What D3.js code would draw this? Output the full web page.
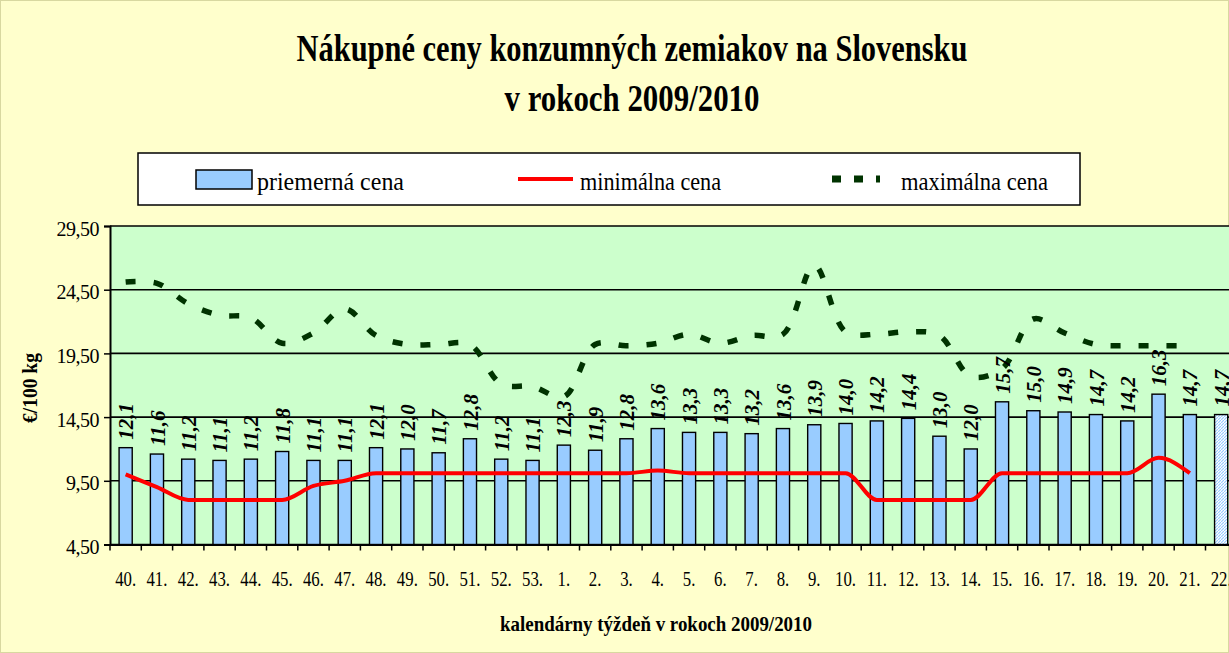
<!DOCTYPE html>
<html>
<head>
<meta charset="utf-8">
<script src="https://cdn.jsdelivr.net/npm/d3@7"></script>
<style>
  body { margin: 0; background: #FFFFCC; }
  svg { display: block; }
  text { font-family: "Liberation Serif", "Times New Roman", serif; }
</style>
</head>
<body>
<div id="chart"></div>
<script>
// week labels (2009/2010)
var weeks = ["40.","41.","42.","43.","44.","45.","46.","47.","48.","49.","50.","51.","52.","53.",
             "1.","2.","3.","4.","5.","6.","7.","8.","9.","10.","11.","12.","13.","14.","15.",
             "16.","17.","18.","19.","20.","21.","22."];

// priemerna cena (bars)
var avgPrice = [12.1,11.6,11.2,11.1,11.2,11.8,11.1,11.1,12.1,12.0,11.7,12.8,11.2,11.1,
                12.3,11.9,12.8,13.6,13.3,13.3,13.2,13.6,13.9,14.0,14.2,14.4,13.0,12.0,15.7,
                15.0,14.9,14.7,14.2,16.3,14.7,14.7];

// minimalna cena (red line)
var minPrice = [10.0,9.0,8.0,8.0,8.0,8.0,9.1,9.5,10.1,10.1,10.1,10.1,10.1,10.1,
                10.1,10.1,10.1,10.3,10.1,10.1,10.1,10.1,10.1,10.1,8.0,8.0,8.0,8.0,10.1,
                10.1,10.1,10.1,10.1,11.3,10.1,null];

// maximalna cena (dashed line)
var maxPrice = [25.1,25.0,23.4,22.5,22.3,20.3,21.1,23.0,20.9,20.2,20.2,20.2,17.1,16.9,
                16.1,20.2,20.1,20.3,21.0,20.3,20.9,21.0,26.4,21.2,21.0,21.2,20.9,17.7,18.3,
                22.2,21.1,20.2,20.1,20.1,20.1,null];

var yTicks = [4.5, 9.5, 14.5, 19.5, 24.5, 29.5];
var hatchedWeeks = ["22."];

var width = 1229, height = 653;
var plot = {left: 110, top: 226, bottom: 544.5, band: 31.3};

var skFormat = d3.formatLocale({decimal: ",", thousands: " ", grouping: [3], currency: ["", " €"]});
var tickFmt = skFormat.format(".2f");
var valFmt = skFormat.format(".1f");

var svg = d3.select("#chart").append("svg")
      .attr("width", width)
      .attr("height", height);

// hatch pattern for the last (partial) week
var defs = svg.append("defs");
var pat = defs.append("pattern")
      .attr("id", "hatch")
      .attr("patternUnits", "userSpaceOnUse")
      .attr("width", 3).attr("height", 3);
pat.append("rect").attr("width", 3).attr("height", 3).attr("fill", "#ffffff");
pat.append("path").attr("d", "M0,3 L3,0").attr("stroke", "#99CCFF").attr("stroke-width", 1.2);

svg.append("rect")
      .attr("x", 0.5).attr("y", 0.5)
      .attr("width", width - 1).attr("height", height - 1)
      .attr("fill", "#FFFFCC")
      .attr("stroke", "#d8d8a0");

// scales
var x = d3.scaleBand()
      .domain(weeks)
      .range([plot.left, plot.left + weeks.length * plot.band]);

var y = d3.scaleLinear()
      .domain([yTicks[0], yTicks[yTicks.length - 1]])
      .range([plot.bottom, plot.top]);

// title
var title = svg.append("g")
      .attr("font-weight", "bold")
      .attr("font-size", 37)
      .attr("text-anchor", "middle")
      .attr("fill", "#000");
title.append("text").attr("x", 632).attr("y", 61)
      .attr("textLength", 671).attr("lengthAdjust", "spacingAndGlyphs")
      .text("Nákupné ceny konzumných zemiakov na Slovensku");
title.append("text").attr("x", 632).attr("y", 111)
      .attr("textLength", 255).attr("lengthAdjust", "spacingAndGlyphs")
      .text("v rokoch 2009/2010");

// legend
var legend = svg.append("g");
legend.append("rect")
      .attr("x", 138).attr("y", 153)
      .attr("width", 942).attr("height", 52)
      .attr("fill", "#ffffff")
      .attr("stroke", "#000").attr("stroke-width", 1.5);
legend.append("rect")
      .attr("x", 196).attr("y", 170)
      .attr("width", 56).attr("height", 19)
      .attr("fill", "#99CCFF")
      .attr("stroke", "#000").attr("stroke-width", 1.5);
legend.append("line")
      .attr("x1", 518).attr("x2", 573).attr("y1", 179).attr("y2", 179)
      .attr("stroke", "#FF0000").attr("stroke-width", 4);
legend.append("line")
      .attr("x1", 832).attr("x2", 880).attr("y1", 179).attr("y2", 179)
      .attr("stroke", "#003300").attr("stroke-width", 7)
      .attr("stroke-dasharray", "9,13");
var legTexts = [["priemerná cena", 257, 147], ["minimálna cena", 580, 141], ["maximálna cena", 901, 147]];
legend.selectAll("text.leg")
      .data(legTexts)
      .enter()
      .append("text")
      .attr("class", "leg")
      .attr("x", d => d[1])
      .attr("y", 190)
      .attr("font-size", 25)
      .attr("textLength", d => d[2])
      .attr("lengthAdjust", "spacingAndGlyphs")
      .text(d => d[0]);

// plot area background
svg.append("rect")
      .attr("x", plot.left).attr("y", plot.top)
      .attr("width", width - plot.left)
      .attr("height", plot.bottom - plot.top)
      .attr("fill", "#CCFFCC");

// gridlines
svg.append("g")
      .selectAll("line")
      .data(yTicks)
      .enter()
      .append("line")
      .attr("x1", plot.left).attr("x2", width)
      .attr("y1", d => y(d)).attr("y2", d => y(d))
      .attr("stroke", "#000")
      .attr("stroke-width", 1.6);

// bars
var barW = x.bandwidth() * 0.42;
svg.append("g")
      .selectAll("rect")
      .data(weeks)
      .enter()
      .append("rect")
      .attr("x", d => x(d) + (x.bandwidth() - barW) / 2)
      .attr("y", (d, i) => y(avgPrice[i]))
      .attr("width", barW)
      .attr("height", (d, i) => y(yTicks[0]) - y(avgPrice[i]))
      .attr("fill", d => hatchedWeeks.indexOf(d) >= 0 ? "url(#hatch)" : "#99CCFF")
      .attr("stroke", "#000")
      .attr("stroke-width", 1.4);

// Y axis
var yAxis = svg.append("g")
      .attr("transform", "translate(" + plot.left + ",0)")
      .call(d3.axisLeft(y).tickValues(yTicks).tickFormat(tickFmt).tickSize(6).tickPadding(5));
yAxis.select(".domain").attr("stroke-width", 2);
yAxis.selectAll(".tick line").attr("stroke-width", 1.5);
yAxis.selectAll(".tick text")
      .attr("font-family", "Liberation Serif, serif")
      .attr("font-size", 20)
      .attr("letter-spacing", -0.5)
      .attr("dy", "0.45em");

// X axis
var xAxis = svg.append("g")
      .attr("transform", "translate(0," + plot.bottom + ")")
      .call(d3.axisBottom(x).tickSize(0).tickPadding(27));
xAxis.select(".domain").attr("stroke-width", 2);
xAxis.selectAll(".tick text")
      .attr("font-family", "Liberation Serif, serif")
      .attr("font-size", 20)
      .attr("transform", "scale(0.84,1)");
// tick marks between the weeks
xAxis.selectAll("line.sep")
      .data(weeks)
      .enter()
      .append("line")
      .attr("class", "sep")
      .attr("x1", d => x(d)).attr("x2", d => x(d))
      .attr("y1", 0).attr("y2", 6)
      .attr("stroke", "#000").attr("stroke-width", 1.5);

// minimalna cena
var minLine = d3.line()
      .defined(d => d[1] != null)
      .x(d => x(d[0]) + x.bandwidth() / 2)
      .y(d => y(d[1]))
      .curve(d3.curveMonotoneX);

svg.append("path")
      .datum(weeks.map((w, i) => [w, minPrice[i]]))
      .attr("d", minLine)
      .attr("fill", "none")
      .attr("stroke", "#FF0000")
      .attr("stroke-width", 4)
      .attr("stroke-linejoin", "round");

// maximalna cena
var maxLine = d3.line()
      .defined(d => d[1] != null)
      .x(d => x(d[0]) + x.bandwidth() / 2)
      .y(d => y(d[1]))
      .curve(d3.curveCatmullRom.alpha(0.5));

svg.append("path")
      .datum(weeks.map((w, i) => [w, maxPrice[i]]))
      .attr("d", maxLine)
      .attr("fill", "none")
      .attr("stroke", "#003300")
      .attr("stroke-width", 5.5)
      .attr("stroke-dasharray", "10,18");

// value labels above the bars
svg.append("g")
      .selectAll("text")
      .data(weeks)
      .enter()
      .append("text")
      .attr("transform", (d, i) => "translate(" + (x(d) + x.bandwidth() / 2) + "," + (y(avgPrice[i]) - 8) + ") rotate(-90)")
      .attr("dy", "0.36em")
      .attr("font-size", 21)
      .attr("font-weight", "bold")
      .attr("font-style", "italic")
      .text((d, i) => valFmt(avgPrice[i]));

// axis titles
svg.append("text")
      .attr("transform", "translate(30,388) rotate(-90)")
      .attr("dy", "0.35em")
      .attr("text-anchor", "middle")
      .attr("font-size", 21)
      .attr("font-weight", "bold")
      .attr("textLength", 70)
      .attr("lengthAdjust", "spacingAndGlyphs")
      .text("€/100 kg");

svg.append("text")
      .attr("x", 656).attr("y", 631)
      .attr("text-anchor", "middle")
      .attr("font-size", 21)
      .attr("font-weight", "bold")
      .attr("textLength", 312)
      .attr("lengthAdjust", "spacingAndGlyphs")
      .text("kalendárny týždeň v rokoch 2009/2010");
</script>
</body>
</html>
